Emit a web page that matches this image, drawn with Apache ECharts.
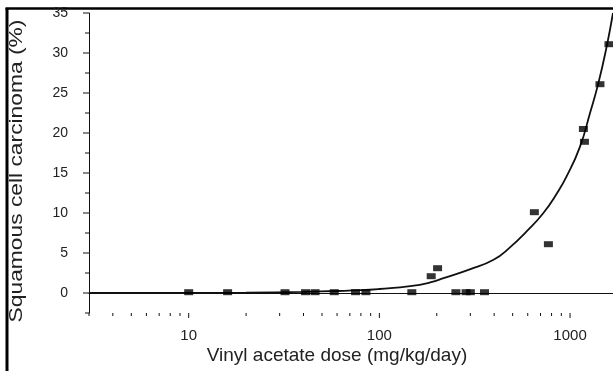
<!DOCTYPE html>
<html>
<head>
<meta charset="utf-8">
<script src="https://cdn.jsdelivr.net/npm/echarts@6/dist/echarts.min.js"></script>
<style>
  html, body { margin: 0; padding: 0; background: #fff; }
  #main { width: 613px; height: 371px; }
</style>
</head>
<body>
<div id="main"></div>
<script>
// observed doses (mg/kg/day) and incidence (%)
var obsDose = [10, 16, 32, 41, 46, 58, 75, 85, 148, 187, 202, 252, 285, 300, 356, 650, 770, 1175, 1190, 1435, 1600];
var obsPct = [0.1, 0.1, 0.1, 0.1, 0.1, 0.1, 0.1, 0.1, 0.1, 2.1, 3.1, 0.1, 0.1, 0.1, 0.1, 10.1, 6.1, 20.5, 18.9, 26.1, 31.1];

// fitted curve
var fitDose = [3, 10, 20, 40, 60, 80, 100, 145, 187, 217, 298, 397, 484, 592, 725, 851, 961, 1128, 1273, 1407, 1556, 1680];
var fitPct = [0, 0, 0.05, 0.15, 0.25, 0.35, 0.5, 0.85, 1.35, 1.85, 2.95, 4.15, 5.7, 7.7, 10.0, 12.4, 14.6, 18.3, 22.5, 26.2, 30.8, 35];

// tick positions
var xMajorTicks = [10, 100, 1000];
var xMinorTicks = [3, 4, 5, 6, 7, 8, 9, 20, 30, 40, 50, 60, 70, 80, 90, 200, 300, 400, 500, 600, 700, 800, 900];
var yMajorTicks = [0, 5, 10, 15, 20, 25, 30, 35];
var yMinorTicks = [-2.5, 2.5, 7.5, 12.5, 17.5, 22.5, 27.5, 32.5];

var X_MIN = 3, X_MAX = 1680, Y_MIN = -2.5, Y_MAX = 35;
var ink = '#111';
var font = '"Liberation Sans", Arial, Helvetica, sans-serif';

var myChart = echarts.init(document.getElementById('main'), null, { renderer: 'canvas' });

function tickItem(params, api) {
	var kind = api.value(2);
	var len = api.value(3);
	var p = api.coord([api.value(0), api.value(1)]);
	var shape;
	if (kind === 0) {
		shape = { x1: p[0], y1: p[1], x2: p[0], y2: p[1] + len };
	} else {
		shape = { x1: p[0] - len, y1: p[1], x2: p[0], y2: p[1] };
	}
	return { type: 'line', shape: shape, style: { stroke: ink, lineWidth: 1 } };
}

var tickData = [];
xMajorTicks.forEach(function (v) { tickData.push([v, Y_MIN, 0, 5]); });
xMinorTicks.forEach(function (v) { tickData.push([v, Y_MIN, 0, 3]); });
yMajorTicks.forEach(function (v) { tickData.push([X_MIN, v, 1, 6]); });
yMinorTicks.forEach(function (v) { tickData.push([X_MIN, v, 1, 4]); });

var option = {
	animation: false,
	backgroundColor: '#fff',
	grid: { left: 89, top: 13, right: 0, bottom: 58 },
	xAxis: {
		type: 'log',
		logBase: 10,
		min: X_MIN,
		max: X_MAX,
		axisLine: { lineStyle: { color: ink, width: 1 } },
		axisTick: { show: false },
		splitLine: { show: false },
		axisLabel: {
			margin: 15,
			fontSize: 15,
			fontFamily: font,
			color: '#222',
			showMinLabel: false,
			showMaxLabel: false,
			formatter: function (v) {
				return xMajorTicks.indexOf(Math.round(v)) >= 0 ? String(Math.round(v)) : '';
			}
		}
	},
	yAxis: {
		type: 'value',
		min: Y_MIN,
		max: Y_MAX,
		interval: 2.5,
		axisLine: { lineStyle: { color: ink, width: 1 } },
		axisTick: { show: false },
		splitLine: { show: false },
		axisLabel: {
			margin: 21,
			fontSize: 14,
			fontFamily: font,
			color: '#222',
			formatter: function (v) {
				return yMajorTicks.indexOf(v) >= 0 ? String(v) : '';
			}
		}
	},
	graphic: [
		{ type: 'line', shape: { x1: 7, y1: 8, x2: 7, y2: 371 }, style: { stroke: '#000', lineWidth: 3 } },
		{ type: 'line', shape: { x1: 5.5, y1: 8.5, x2: 613, y2: 8.5 }, style: { stroke: '#000', lineWidth: 2.5 } },
		{
			type: 'text', x: 337, y: 356,
			style: { text: 'Vinyl acetate dose (mg/kg/day)', font: '19px ' + font, fill: '#222', textAlign: 'center', textVerticalAlign: 'middle' }
		},
		{
			type: 'text', x: 17, y: 171, rotation: Math.PI / 2, scaleX: 1.2,
			style: { text: 'Squamous cell carcinoma (%)', font: '19px ' + font, fill: '#222', textAlign: 'center', textVerticalAlign: 'middle' }
		}
	],
	series: [
		{
			name: 'fit',
			type: 'line',
			data: fitDose.map(function (d, i) { return [d, fitPct[i]]; }),
			smooth: 0.5,
			showSymbol: false,
			lineStyle: { color: ink, width: 1.8 },
			z: 2
		},
		{
			name: 'observed',
			type: 'scatter',
			data: obsDose.map(function (d, i) { return [d, obsPct[i]]; }),
			symbol: 'rect',
			symbolSize: [9, 6],
			itemStyle: { color: '#000' },
			z: 3
		},
		{
			name: 'ticks',
			type: 'custom',
			silent: true,
			clip: false,
			renderItem: tickItem,
			data: tickData,
			z: 4
		}
	]
};

option && myChart.setOption(option);
</script>
</body>
</html>
